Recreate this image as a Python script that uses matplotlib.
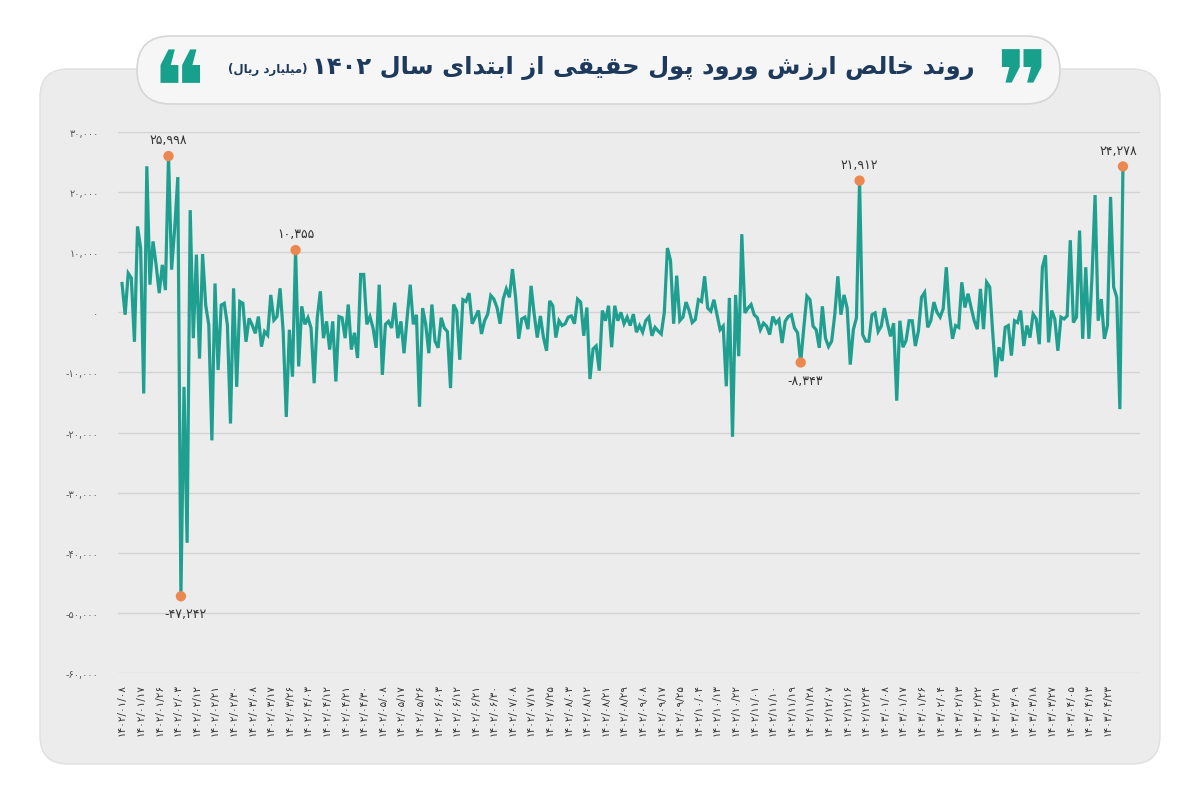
import re
import numpy as np
import matplotlib
matplotlib.use("Agg")
import matplotlib.pyplot as plt
from matplotlib.patches import FancyBboxPatch

part_a = [4800, -400, 6500, 5700, -4900, 14300, 10700, -13500, 24300, 4600,
          11800, 7900, 3200, 7900, 3700, 25998, 7100, 14000, 22500, -47242,
          -12400, -38333, 17000, -4300, 9600, -7700, 9700, 1200, -2100, -21300,
          4800, -9600, 1200, 1500, -2100, -18500, 4000, -12400, 1800, 1500,
          -4900, -1000, -2100, -3500, -700, -5700, -3200, -3800, 2900, -1300,
          -700, 4000, -3200, -17400, -2900, -10700, 10355]
part_b = [-9000, 1000, -2000, -900, -2600, -11800, -900, 3500, -4300, -1500,
          -6200, -1500, -11500, -700, -900, -4300, 1300, -6200, -3400, -7600,
          6300, 6300, -2000, -700, -2600, -5900, 4600, -10400, -2000, -1500,
          -2600, 1600, -4300, -1500, -6800, -900, 4600, -2000, -400, -15700,
          700, -2000, -6800, 1300, -4800, -5900, -900, -2600, -3200, -12600,
          1300, 200, -7900, 2100, 1800, 3200]
part_c = [-1900, -800, 300, -3600, -1400, -300, 2800, 2200, 800, -1900,
          2200, 3900, 2500, 7200, 2500, -4400, -1100, -800, -2800, 4400,
          -300, -4200, -600, -4200, -6400, 1900, 1100, -4200, -1400, -2200,
          -1900, -800, -600, -1900, 2200, 1700, -3900, 800, -11100, -6100,
          -5600, -9700, 300, -1400, 1100, -5800, 1100, -1400, 0, -1900,
          -800, -2200, -300, -3300, -2200, -3300, -1400, -800, -3900, -2500,
          -3100, -3600, 0, 10700, 8600, -1900, 6100, -1400, -800, 1700,
          300, -1700]
part_d = [-1200, 2100, 1800, 6000, 700, 200, 2100, -400, -2900, -2300,
          -12300, 2400, -20700, 2900, -7300, 13000, -100, 700, 1300, -400,
          -900, -2900, -1800, -2300, -3700, -700, -1800, -1200, -5100, -1500,
          -700, -400, -2600, -3400, -8343, -2600, 2700, 2100, -2300, -2900,
          -5900, 1000, -4300, -5700, -4800, -400, 6000, -400, 2900, 700,
          -8700, -2900, -900, 21912, -3700, -4800, -4800, -400, -100, -3200,
          -2300, 700, -1800, -4000, -1800]
part_e = [-14700, -1400, -5800, -4700, -1400, -1400, -5600, -3100, 2500, 3300,
          -2500, -1400, 1700, 0, -800, 600, 7500, -300, -4400, -2200,
          -2500, 5000, 800, 3100, 800, -1400, -2800, 3900, -2800, 5000,
          4200, -3600, -10800, -5800, -8100, -2500, -2200, -7200, -1400, -1700,
          300, -5600, -2200, -4200, -300, -1100, -5300, 7500, 9500, -5000,
          300, -1100, -6400, -800, -1100, -600, 12000, -1700, -800, 13600,
          -4400, 7500, -4400, 5800, 19500, -1400, 2200, -4400, -2200, 19200,
          4200, 2500, -16100, 24278]

highlight_values = [25998, -47242, 10355, -8343, 21912, 24278]
highlight_above = [True, False, True, False, True, True]

y_ticks = [30000, 20000, 10000, 0, -10000, -20000, -30000, -40000, -50000, -60000]

date_labels = ["1402/01/08", "1402/01/17", "1402/01/26", "1402/02/03", "1402/02/12",
               "1402/02/21", "1402/02/30", "1402/03/08", "1402/03/17", "1402/03/26",
               "1402/04/03", "1402/04/12", "1402/04/21", "1402/04/30", "1402/05/08",
               "1402/05/17", "1402/05/26", "1402/06/03", "1402/06/12", "1402/06/21",
               "1402/06/30", "1402/07/08", "1402/07/17", "1402/07/25", "1402/08/03",
               "1402/08/12", "1402/08/21", "1402/08/29", "1402/09/08", "1402/09/17",
               "1402/09/25", "1402/10/04", "1402/10/13", "1402/10/22", "1402/11/01",
               "1402/11/10", "1402/11/19", "1402/11/28", "1402/12/07", "1402/12/16",
               "1402/12/24", "1403/01/08", "1403/01/17", "1403/01/26", "1403/02/04",
               "1403/02/13", "1403/02/22", "1403/02/31", "1403/03/09", "1403/03/18",
               "1403/03/27", "1403/04/05", "1403/04/13", "1403/04/23"]

title_fa = "روند خالص ارزش ورود پول حقیقی از ابتدای سال ۱۴۰۲"
unit_fa = "(میلیارد ریال)"

values = part_a + part_b + part_c + part_d + part_e
idx = np.arange(len(values))

FA = str.maketrans("0123456789", "۰۱۲۳۴۵۶۷۸۹")

# presentation forms: isolated, final, initial, medial
FORMS = {
    "ا": ("\uFE8D", "\uFE8E"),
    "ب": ("\uFE8F", "\uFE90", "\uFE91", "\uFE92"),
    "پ": ("\uFB56", "\uFB57", "\uFB58", "\uFB59"),
    "ت": ("\uFE95", "\uFE96", "\uFE97", "\uFE98"),
    "ح": ("\uFEA1", "\uFEA2", "\uFEA3", "\uFEA4"),
    "خ": ("\uFEA5", "\uFEA6", "\uFEA7", "\uFEA8"),
    "د": ("\uFEA9", "\uFEAA"),
    "ر": ("\uFEAD", "\uFEAE"),
    "ز": ("\uFEAF", "\uFEB0"),
    "س": ("\uFEB1", "\uFEB2", "\uFEB3", "\uFEB4"),
    "ش": ("\uFEB5", "\uFEB6", "\uFEB7", "\uFEB8"),
    "ص": ("\uFEB9", "\uFEBA", "\uFEBB", "\uFEBC"),
    "ق": ("\uFED5", "\uFED6", "\uFED7", "\uFED8"),
    "ل": ("\uFEDD", "\uFEDE", "\uFEDF", "\uFEE0"),
    "م": ("\uFEE1", "\uFEE2", "\uFEE3", "\uFEE4"),
    "ن": ("\uFEE5", "\uFEE6", "\uFEE7", "\uFEE8"),
    "و": ("\uFEED", "\uFEEE"),
    "ی": ("\uFEEF", "\uFEF0", "\uFEF3", "\uFEF4"),
}


def fa_text(text):
    out = []
    for i, ch in enumerate(text):
        if ch not in FORMS:
            out.append(ch)
            continue
        f = FORMS[ch]
        prev = text[i - 1] if i > 0 else ""
        nxt = text[i + 1] if i + 1 < len(text) else ""
        lp = prev in FORMS and len(FORMS[prev]) == 4
        ln = len(f) == 4 and nxt in FORMS
        if lp and ln:
            out.append(f[3])
        elif lp:
            out.append(f[1])
        elif ln:
            out.append(f[2])
        else:
            out.append(f[0])
    shaped = "".join(out)
    runs = re.findall(r"[0-9۰-۹,]+|[^0-9۰-۹,]+", shaped)
    mirror = {"(": ")", ")": "("}
    vis = []
    for r in reversed(runs):
        if re.match(r"[0-9۰-۹]", r):
            vis.append(r)
        else:
            vis.append("".join(mirror.get(c, c) for c in reversed(r)))
    return "".join(vis)


def fa_num(v):
    s = f"{abs(v):,}".translate(FA)
    return "-" + s if v < 0 else s


fig = plt.figure(figsize=(12, 8.03), dpi=100)
fig.patch.set_facecolor("white")

# background card + title pill, drawn in pixel coordinates
bg = fig.add_axes([0, 0, 1, 1])
bg.set_xlim(0, 1200)
bg.set_ylim(803, 0)
bg.axis("off")

card = FancyBboxPatch((40, 70), 1120, 695, boxstyle="round,pad=0,rounding_size=28",
                      facecolor="#ececec", edgecolor="#e0e0e0", lw=1)
bg.add_patch(card)
gx, gy = np.meshgrid(np.linspace(-1, 1, 300), np.linspace(-1, 1, 200))
shade = np.clip(1 - 0.6 * (gx ** 2) - 0.4 * (gy ** 2), 0, 1)
im = bg.imshow(shade, extent=(40, 1160, 765, 70), cmap="Greys_r", vmin=-4.5, vmax=1.25,
               aspect="auto", interpolation="bilinear")
im.set_clip_path(card)

pill = FancyBboxPatch((137, 37), 923, 68, boxstyle="round,pad=0,rounding_size=34",
                      facecolor="#f6f6f6", edgecolor="#d6d6d6", lw=1.2)
bg.add_patch(pill)

bg.text(975, 68, fa_text(title_fa), ha="right", va="center", fontsize=17.5,
        fontweight="bold", color="#1d3a5c")
bg.text(308, 70, fa_text(unit_fa), ha="right", va="center", fontsize=8.5,
        fontweight="bold", color="#1d3a5c")
bg.text(1022, 95, "\u275E", ha="center", va="center", fontsize=72,
        color="#17a08b")
bg.text(178, 95, "\u275D", ha="center", va="center", fontsize=72,
        color="#17a08b")

# chart
ax = fig.add_axes([118 / 1200, 1 - 674 / 803, (1140 - 118) / 1200, (674 - 133) / 803])
ax.set_facecolor("none")
ax.plot(idx, values, color="#1f9f8f", lw=2.3, solid_joinstyle="miter", zorder=3)

for v, above in zip(highlight_values, highlight_above):
    i = values.index(v)
    ax.scatter([i], [v], s=55, color="#ec8750", zorder=4, edgecolors="none")
    dx = -3 if i == len(values) - 1 else 0
    if above:
        ax.annotate(fa_num(v), (i, v), xytext=(dx, 7), textcoords="offset points",
                    ha="center", va="bottom", fontsize=9, color="#333333",
                    annotation_clip=False)
    else:
        ax.annotate(fa_num(v), (i, v), xytext=(3, -8), textcoords="offset points",
                    ha="center", va="top", fontsize=9, color="#333333",
                    annotation_clip=False)

ax.set_ylim(-60000, 30000)
ax.set_xlim(-1.3, len(values) - 1 + 5.5)
ax.set_yticks(y_ticks)
ax.set_yticklabels([fa_num(t) for t in y_ticks], fontsize=7, color="#555555")
ticks = idx[::6]
ax.set_xticks(ticks)
ax.set_xticklabels([d.translate(FA) for d in date_labels[:len(ticks)]], rotation=90,
                   fontsize=7.5, color="#333333")
ax.tick_params(axis="both", length=0)
ax.tick_params(axis="y", pad=14)
ax.tick_params(axis="x", pad=7)
ax.grid(axis="y", color="#d3d3d3", lw=1)
ax.set_axisbelow(True)
for s in ax.spines.values():
    s.set_visible(False)

fig.savefig("out.png", dpi=100)
